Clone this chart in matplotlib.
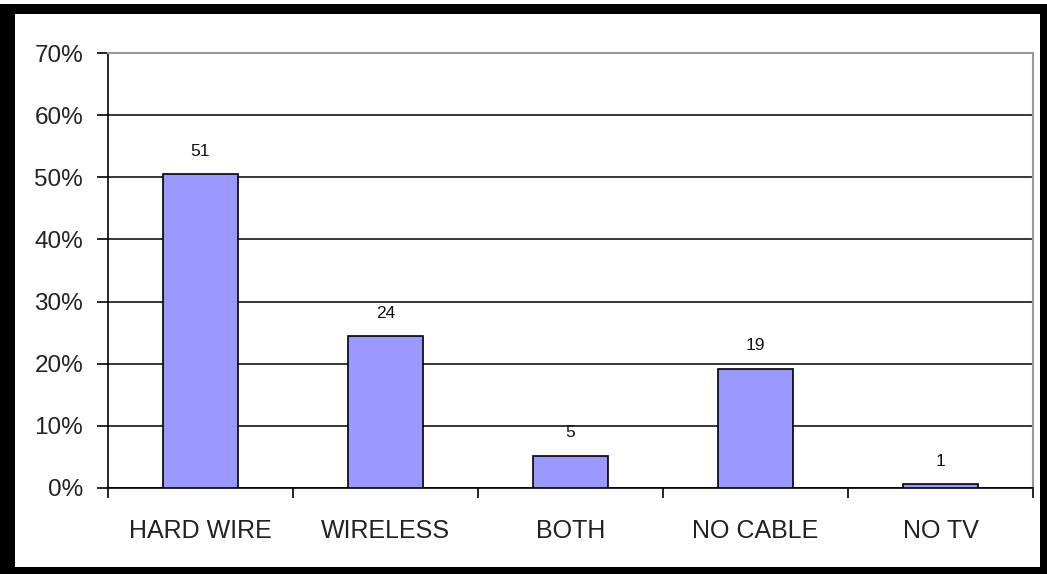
import matplotlib
matplotlib.use("Agg")
import matplotlib.pyplot as plt
from matplotlib.patches import Rectangle
from matplotlib.ticker import FixedLocator, PercentFormatter

categories = ["HARD WIRE", "WIRELESS", "BOTH", "NO CABLE", "NO TV"]
values = [50.5, 24.4, 5.2, 19.2, 0.6]
value_labels = ["51", "24", "5", "19", "1"]
yticks = [0, 10, 20, 30, 40, 50, 60, 70]

plt.rcParams['font.family'] = ['Liberation Sans', 'DejaVu Sans']

W, H = 1047, 574
fig = plt.figure(figsize=(W / 100, H / 100), dpi=100)
fig.patch.set_facecolor("white")

# black frame around the chart area (pixel coordinates)
def px_rect(x0, y0, x1, y1):
    return Rectangle((x0 / W, 1 - y1 / H), (x1 - x0) / W, (y1 - y0) / H,
                     transform=fig.transFigure, facecolor="black",
                     edgecolor="none", zorder=10)

for r in [(0, 4, W, 14), (0, 4, 15, H), (0, 567, W, H), (1040, 4, W, H)]:
    fig.add_artist(px_rect(*r))

left, right, top, bottom = 108, 1033, 53, 488
ax = fig.add_axes([left / W, 1 - bottom / H, (right - left) / W, (bottom - top) / H])

x = list(range(len(categories)))
ax.bar(x, values, width=0.41, color="#9999FF", edgecolor="black", linewidth=1.2, zorder=3)
ax.set_xlim(-0.5, len(categories) - 0.5)
ax.set_ylim(0, 70)

for xi, v, lab in zip(x, values, value_labels):
    ax.text(xi, v + 2.5, lab, ha="center", va="bottom", fontsize=12.5, color="#111111")

ax.yaxis.set_major_locator(FixedLocator(yticks))
ax.yaxis.set_major_formatter(PercentFormatter(decimals=0))
ax.grid(axis="y", color="black", linewidth=1.1, zorder=1)
ax.set_axisbelow(True)

ax.set_xticks(x)
ax.set_xticklabels(categories, color="#222222")
ax.tick_params(axis="x", which="major", length=0, pad=22, labelsize=18)
ax.set_xticks([i + 0.5 for i in range(-1, len(categories))], minor=True)
ax.tick_params(axis="x", which="minor", length=7, width=1.2, direction="out", color="black")
ax.tick_params(axis="y", length=8, width=1.2, direction="out", labelsize=17.5, pad=10,
               labelcolor="#222222")

for s in ["left", "bottom"]:
    ax.spines[s].set_color("black")
    ax.spines[s].set_linewidth(1.2)
for s in ["top", "right"]:
    ax.spines[s].set_color("#999999")
    ax.spines[s].set_linewidth(1.5)

fig.savefig("out.png", dpi=100, facecolor="white")
